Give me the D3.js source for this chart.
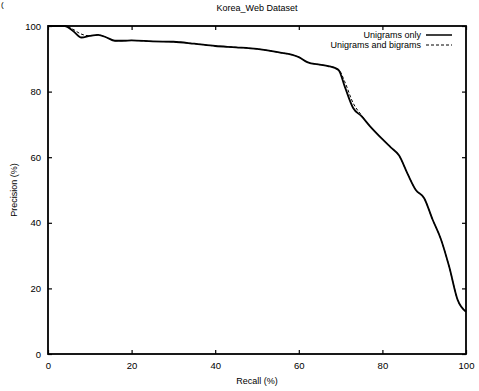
<!DOCTYPE html>
<html>
<head>
<meta charset="utf-8">
<script src="https://cdn.jsdelivr.net/npm/d3@7"></script>
<style>
  body { margin: 0; background: #fff; }
  text { font-family: "Liberation Sans", Arial, sans-serif; fill: #000; }
</style>
</head>
<body>
<div id="chart"></div>
<script>
// recall (%) values along each curve
const recallUni = [0, 4, 6, 8, 10, 12, 14, 16, 18, 20, 25, 30, 35, 40, 45, 50, 55, 60, 62, 65, 67, 69.5, 71, 73, 75, 77, 80, 82, 84, 86, 88, 90, 92, 94, 96, 98, 100];
const precisionUni = [100, 100, 98.5, 96.5, 97, 97.3, 96.5, 95.5, 95.5, 95.6, 95.3, 95.2, 94.6, 93.9, 93.5, 93, 92, 90.5, 89, 88.2, 87.8, 86.6, 81.5, 75, 72.5, 69.5, 65.5, 63, 60.5, 55, 50, 47.5, 41, 35, 26.5, 16.5, 12.9];

const recallBi = [0, 4, 6, 7.5, 10, 12, 14, 16, 18, 20, 25, 30, 35, 40, 45, 50, 55, 60, 62, 65, 67, 69.5, 71, 73, 75, 77, 80, 82, 84, 86, 88, 90, 92, 94, 96, 98, 100];
const precisionBi = [100, 100, 99, 97.8, 97, 97.3, 96.5, 95.5, 95.5, 95.6, 95.3, 95.2, 94.6, 93.9, 93.5, 93, 92, 90.5, 89, 88.2, 87.8, 86.8, 83, 76.5, 72.8, 69.5, 65.5, 63, 60.5, 55, 50, 47.5, 41, 35, 26.5, 16.5, 12.9];

const xTicks = [0, 20, 40, 60, 80, 100];
const yTicks = [0, 20, 40, 60, 80, 100];
const seriesNames = ["Unigrams only", "Unigrams and bigrams"];

const width = 479, height = 391;
const margin = { top: 26, right: 13, bottom: 37, left: 48 };
const w = width - margin.left - margin.right;
const h = height - margin.top - margin.bottom;

const svg = d3.select("#chart").append("svg")
    .attr("width", width)
    .attr("height", height);

// stray scan mark at top-left corner
svg.append("text").attr("x", 1).attr("y", 7).attr("font-size", 8).text("(");

const g = svg.append("g")
    .attr("transform", `translate(${margin.left}, ${margin.top})`);

const x = d3.scaleLinear().domain([0, 100]).range([0, w]);
const y = d3.scaleLinear().domain([0, 100]).range([h, 0]);

// inner ticks on all four sides, gnuplot style
const tickLen = 4;
const fmt = d3.format("d");
g.append("g").attr("transform", `translate(0, ${h})`)
    .call(d3.axisBottom(x).tickValues(xTicks).tickSize(-tickLen).tickPadding(8).tickFormat(fmt));
g.append("g")
    .call(d3.axisTop(x).tickValues(xTicks).tickSize(-tickLen).tickFormat(""));
g.append("g")
    .call(d3.axisLeft(y).tickValues(yTicks).tickSize(-tickLen).tickPadding(7).tickFormat(fmt));
g.append("g").attr("transform", `translate(${w}, 0)`)
    .call(d3.axisRight(y).tickValues(yTicks).tickSize(-tickLen).tickFormat(""));

g.selectAll(".domain").remove();
g.selectAll(".tick line").attr("stroke", "#000").attr("stroke-width", 1.2);
g.selectAll(".tick text").attr("font-size", 9.5).style("font-family", "'Liberation Sans', Arial, sans-serif");

// frame
g.append("rect")
    .attr("width", w).attr("height", h)
    .attr("fill", "none")
    .attr("stroke", "#000")
    .attr("stroke-width", 1.8);

const line = d3.line()
    .x(d => x(d[0]))
    .y(d => y(d[1]))
    .curve(d3.curveMonotoneX);

g.append("path")
    .datum(d3.zip(recallBi, precisionBi))
    .attr("fill", "none")
    .attr("stroke", "#000")
    .attr("stroke-width", 1)
    .attr("stroke-dasharray", "3,2")
    .attr("d", line);

g.append("path")
    .datum(d3.zip(recallUni, precisionUni))
    .attr("fill", "none")
    .attr("stroke", "#000")
    .attr("stroke-width", 1.8)
    .attr("d", line);

// legend
const legend = g.append("g").attr("transform", `translate(${w - 45}, 9)`);
seriesNames.forEach((name, i) => {
    legend.append("text")
        .attr("x", 0).attr("y", i * 10 + 3)
        .attr("text-anchor", "end")
        .attr("font-size", 9)
        .text(name);
    legend.append("line")
        .attr("x1", 5).attr("x2", 31)
        .attr("y1", i * 10).attr("y2", i * 10)
        .attr("stroke", "#000")
        .attr("stroke-width", i === 0 ? 1.5 : 1)
        .attr("stroke-dasharray", i === 0 ? null : "3,2");
});

// titles
svg.append("text")
    .attr("x", margin.left + w / 2).attr("y", 11)
    .attr("text-anchor", "middle")
    .attr("font-size", 9)
    .text("Korea_Web Dataset");

svg.append("text")
    .attr("x", margin.left + w / 2).attr("y", 384)
    .attr("text-anchor", "middle")
    .attr("font-size", 9)
    .text("Recall (%)");

svg.append("text")
    .attr("transform", `translate(17, ${margin.top + h / 2}) rotate(-90)`)
    .attr("text-anchor", "middle")
    .attr("font-size", 9)
    .text("Precision (%)");
</script>
</body>
</html>
